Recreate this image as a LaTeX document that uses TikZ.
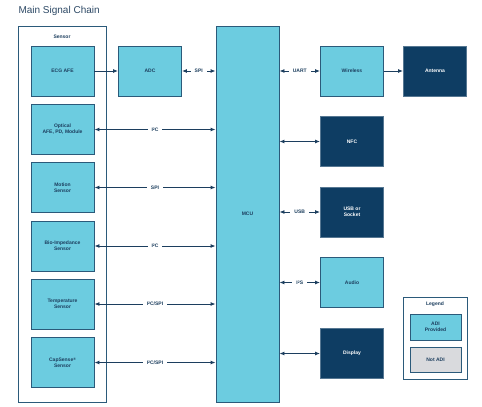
\documentclass[tikz,border=0pt]{standalone}
\usepackage{fontspec}
\setmainfont{Liberation Sans}
\usetikzlibrary{arrows.meta}
\definecolor{lblue}{HTML}{6CCCE0}
\definecolor{navy}{HTML}{0E3D63}
\definecolor{edge}{HTML}{2B5A7A}
\definecolor{txt}{HTML}{1C3E5E}
\definecolor{greybox}{HTML}{D9DADD}
\definecolor{titlec}{HTML}{2E4A66}
\newcommand{\sq}[1]{\raisebox{0.45ex}{\fontsize{3.5}{4}\selectfont #1}}
\tikzset{
  box/.style={draw=edge, line width=0.9pt, minimum width=63pt, minimum height=50pt, inner sep=1pt, align=center, font=\fontsize{5}{6}\selectfont\bfseries, text=txt},
  lbox/.style={box, fill=lblue},
  dbox/.style={box, fill=navy, draw=navy!70!white, text=white},
  conn/.style={draw=txt, line width=0.9pt, {Latex[length=5pt,width=4pt]}-{Latex[length=5pt,width=4pt]}},
  oneway/.style={draw=txt, line width=0.9pt, -{Latex[length=5pt,width=4pt]}},
  lab/.style={fill=white, inner xsep=4pt, inner ysep=1.5pt, font=\fontsize{5}{6}\selectfont\bfseries, text=txt},
  frame/.style={draw=edge, line width=0.9pt},
  plain/.style={font=\fontsize{5}{6}\selectfont\bfseries, text=txt},
}
\begin{document}
\begin{tikzpicture}[x=1pt,y=-1pt]
\useasboundingbox[fill=white] (0,0) rectangle (482,407);
\node[anchor=west, text=titlec, font=\fontsize{10}{12}\selectfont] (title) at (15,11) {Main Signal Chain};
% sensor frame
\node[frame, minimum width=88pt, minimum height=376pt, inner sep=0pt] (sensorframe) at (62,214) {};
\node[plain] (sensorlab) at (62,37) {Sensor};
% sensors
\node[lbox] (ecg) at (62.5,71) {ECG AFE};
\node[lbox] (opt) at (62.5,129.5) {Optical\\AFE, PD, Module};
\node[lbox] (mot) at (62.5,187.5) {Motion\\Sensor};
\node[lbox] (bio) at (62.5,246) {Bio-Impedance\\Sensor};
\node[lbox] (tmp) at (62.5,304) {Temperature\\Sensor};
\node[lbox] (cap) at (62.5,362.5) {CapSense\sq{\textregistered}\\Sensor};
% ADC & MCU
\node[lbox] (adc) at (150,71) {ADC};
\node[lbox, minimum height=376pt] (mcu) at (247.5,214) {MCU};
% right
\node[lbox] (wir) at (352,71) {Wireless};
\node[dbox] (ant) at (435,71) {Antenna};
\node[dbox] (nfc) at (352,141.5) {NFC};
\node[dbox] (usb) at (352,212) {USB or\\Socket};
\node[lbox] (aud) at (352,282.5) {Audio};
\node[dbox] (dis) at (352,353.5) {Display};
% legend
\node[frame, minimum width=64pt, minimum height=82pt, inner sep=0pt] (legframe) at (435,338) {};
\node[plain] (leglab) at (435,304.5) {Legend};
\node[lbox, minimum width=51pt, minimum height=26pt] (adi) at (435.5,327) {ADI\\Provided};
\node[box, fill=greybox, minimum width=51pt, minimum height=25pt] (nadi) at (435.5,359.5) {Not ADI};
% connectors
\draw[oneway] (ecg) -- (adc);
\draw[conn] (adc) -- (adc -| mcu.west) node[lab, midway] (l1) {SPI};
\draw[conn] (opt) -- (opt -| mcu.west) node[lab, midway] (l2) {I\sq{2}C};
\draw[conn] (mot) -- (mot -| mcu.west) node[lab, midway] (l3) {SPI};
\draw[conn] (bio) -- (bio -| mcu.west) node[lab, midway] (l4) {I\sq{2}C};
\draw[conn] (tmp) -- (tmp -| mcu.west) node[lab, midway] (l5) {I\sq{2}C/SPI};
\draw[conn] (cap) -- (cap -| mcu.west) node[lab, midway] (l6) {I\sq{2}C/SPI};
\draw[conn] (wir -| mcu.east) -- (wir) node[lab, midway] (l7) {UART};
\draw[oneway] (wir) -- (ant);
\draw[conn] (nfc -| mcu.east) -- (nfc);
\draw[conn] (usb -| mcu.east) -- (usb) node[lab, midway] (l8) {USB};
\draw[conn] (aud -| mcu.east) -- (aud) node[lab, midway] (l9) {I\sq{2}S};
\draw[conn] (dis -| mcu.east) -- (dis);
\end{tikzpicture}
\end{document}
